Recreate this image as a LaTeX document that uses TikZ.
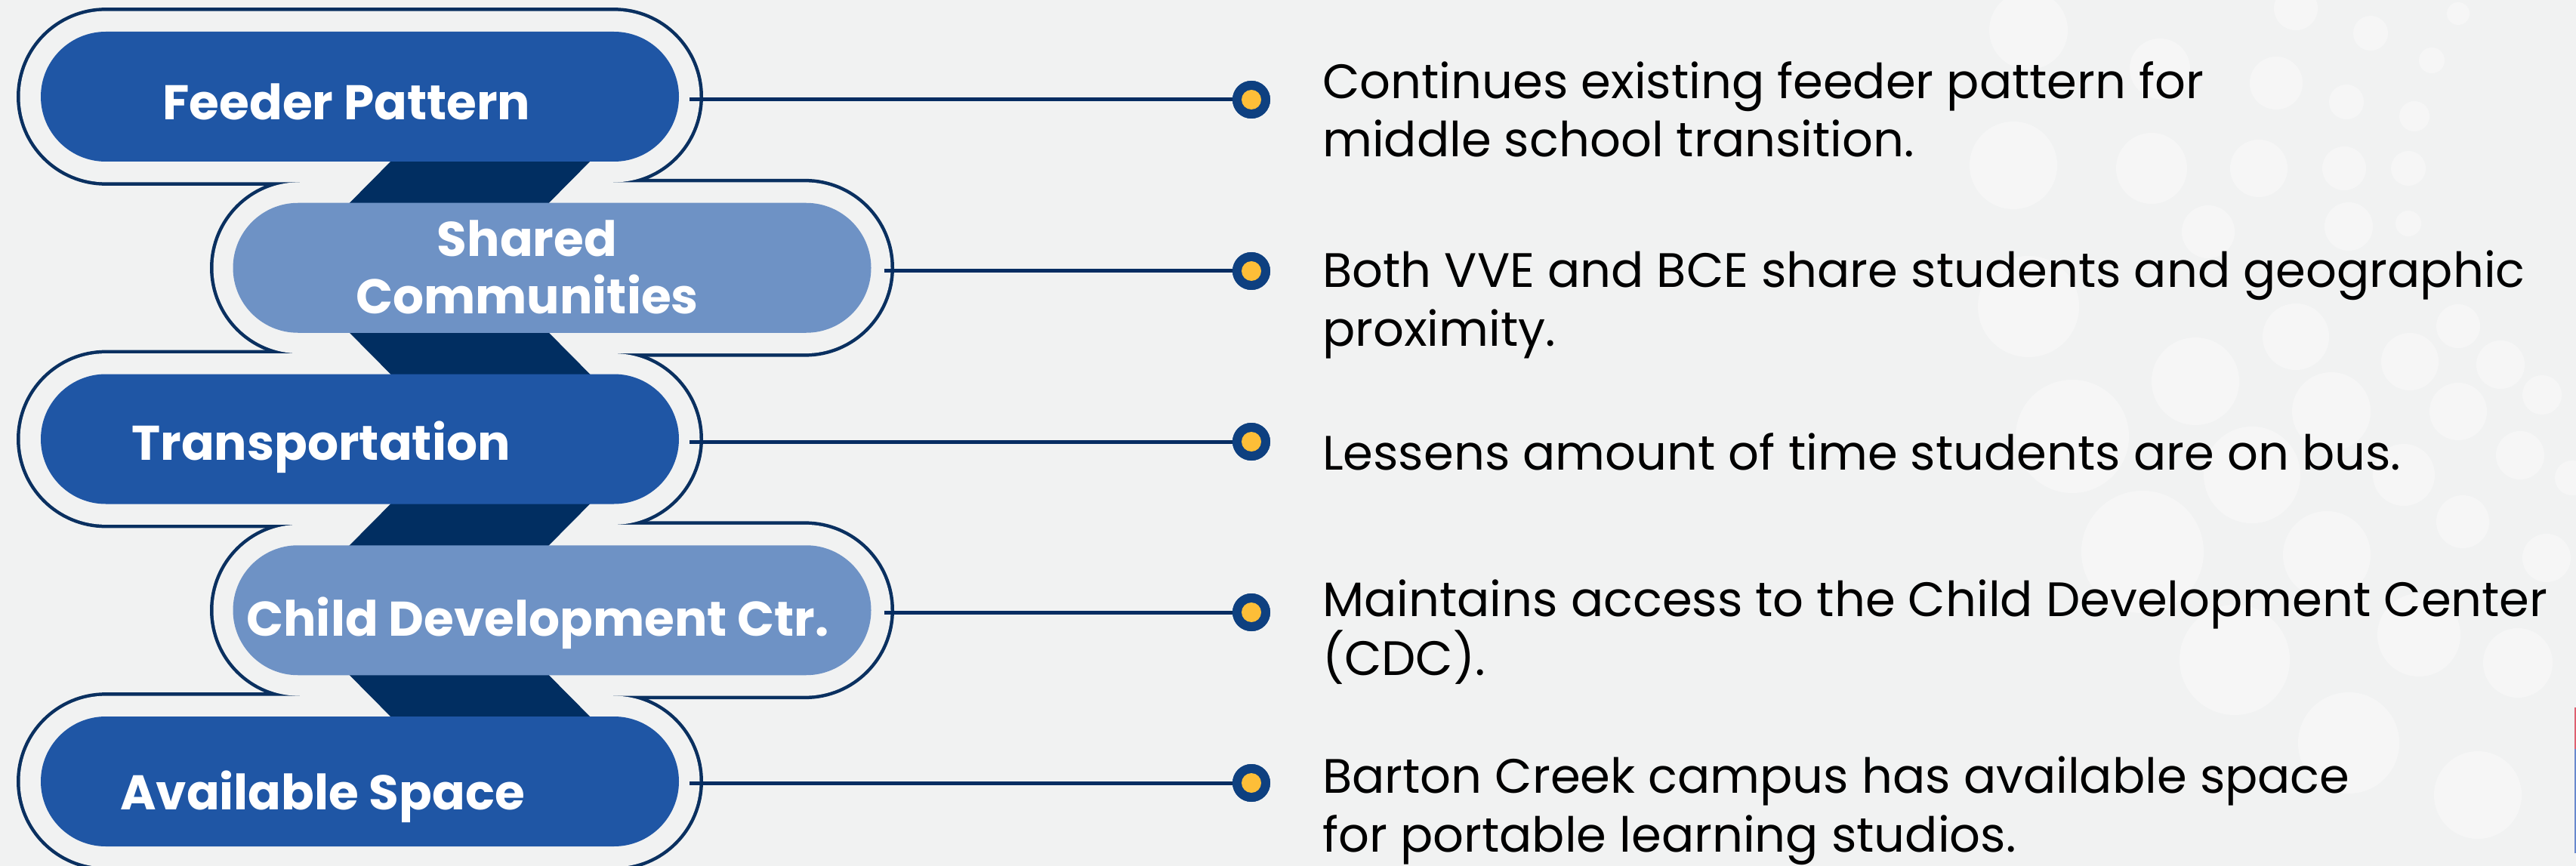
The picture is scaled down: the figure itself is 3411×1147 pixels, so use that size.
\documentclass[tikz,border=0pt]{standalone}
\usepackage{fontspec}
\setmainfont{Poppins}
\usetikzlibrary{calc}
\definecolor{bgc}{RGB}{241,242,242}
\definecolor{pilldark}{RGB}{31,86,165}
\definecolor{pilllight}{RGB}{110,146,197}
\definecolor{bandc}{RGB}{1,46,97}
\definecolor{haloc}{RGB}{10,48,96}
\definecolor{linkc}{RGB}{6,45,98}
\definecolor{dotblue}{RGB}{14,64,128}
\definecolor{dotyel}{RGB}{253,190,56}
\definecolor{edgered}{RGB}{222,96,112}
\definecolor{edgeblue}{RGB}{104,136,205}
\tikzset{
  pillbox/.style={rectangle, rounded corners=86pt, minimum width=845pt, minimum height=172pt, inner sep=0pt},
  pillD/.style={pillbox, fill=pilldark},
  pillL/.style={pillbox, fill=pilllight},
  ptext/.style={text=white, font=\fontsize{64.5}{76}\selectfont\bfseries, inner sep=0pt, align=center},
  halostroke/.style={draw=haloc, line width=9pt},
  halofill/.style={fill=bgc},
  band/.style={fill=bandc},
  link/.style={draw=linkc, line width=5pt},
  dotout/.style={circle, fill=dotblue, minimum size=50pt, inner sep=0pt},
  dotin/.style={circle, fill=dotyel, minimum size=26pt, inner sep=0pt},
  desc/.style={text=black, font=\fontsize{64}{77.5}\selectfont, inner sep=0pt, align=left, anchor=base west},
  bubble/.style={fill=white, fill opacity=0.36}
}
\begin{document}
\begin{tikzpicture}[x=1pt, y=-1pt]
\useasboundingbox (0,0) rectangle (3411,1147);
\fill[bgc] (0,0) rectangle (3411,1147);
% faint background bubbles
\foreach \cx/\cy/\r in {2686/40/52, 2860/91/40, 3014/110/35, 3139/44/23, 3220/80/17, 3255/18/15, 3040/11/29,
  3107/135/23, 3197/154/20, 2666/219/58, 2849/223/47, 2991/223/38, 3104/223/29, 3189/223/23,
  2686/406/67, 2924/307/35, 3110/300/32, 3189/296/17, 3040/446/44, 3191/479/38, 3255/432/29,
  3311/483/32, 2907/505/58, 2744/578/75, 3087/545/52, 3255/545/38, 3366/523/26, 2982/629/64,
  3183/629/41, 3337/603/32, 3406/633/23, 2837/731/81, 3081/735/58, 3261/691/35, 3372/739/32,
  2959/874/73, 3203/841/55, 3334/878/46, 3110/984/67, 3281/1053/58}
  {\fill[bubble] (\cx,\cy) circle (\r);}
\draw[edgered, line width=2.5pt] (3410,937) -- (3410,992);
\draw[edgeblue, line width=2.5pt] (3410,992) -- (3410,1130);
% halo outline (union of stadiums)
\foreach \cx/\cy/\w in {476.5/128/900, 731/354.75/897, 476.5/581.5/900, 731/808.25/897, 476.5/1035/900}
  {\draw[halostroke, rounded corners=113.375pt] (\cx-\w/2,\cy-113.375) rectangle (\cx+\w/2,\cy+113.375);}
\foreach \cx/\cy/\w in {476.5/128/900, 731/354.75/897, 476.5/581.5/900, 731/808.25/897, 476.5/1035/900}
  {\fill[halofill, rounded corners=113.375pt] (\cx-\w/2,\cy-113.375) rectangle (\cx+\w/2,\cy+113.375);}
% hide seams where neighbouring outlines touch
\foreach \jy in {241.375, 468.125, 694.875, 921.625}
  {\fill[halofill] (397,\jy-6) rectangle (812,\jy+6);}
% connecting bands
\fill[band] (531,200) -- (795,200) -- (713,282.75) -- (449,282.75) -- cycle;
\fill[band] (449,426.75) -- (713,426.75) -- (795,509.5) -- (531,509.5) -- cycle;
\fill[band] (531,653.5) -- (795,653.5) -- (713,736.25) -- (449,736.25) -- cycle;
\fill[band] (449,880.25) -- (713,880.25) -- (795,963) -- (531,963) -- cycle;
% pills
\node[pillD] (p1) at (476.5,128) {};
\node[pillL] (p2) at (731,354.75) {};
\node[pillD] (p3) at (476.5,581.5) {};
\node[pillL] (p4) at (731,808.25) {};
\node[pillD] (p5) at (476.5,1035) {};
\node[ptext, anchor=base] (t1) at (459,159) {Feeder Pattern};
\node[ptext, anchor=base] (t2) at (698,415) {Shared\\Communities};
\node[ptext, anchor=base] (t3) at (425,609) {Transportation};
\node[ptext, anchor=base] (t4) at (712,842) {Child Development Ctr.};
\node[ptext, anchor=base] (t5) at (427,1072) {Available Space};
% dots
\node[dotout] (d1) at (1657,132) {};
\node[dotout] (d2) at (1657,359) {};
\node[dotout] (d3) at (1657,585) {};
\node[dotout] (d4) at (1657,811) {};
\node[dotout] (d5) at (1657,1037) {};
% links
\draw[link] ([xshift=14pt]d1 -| p1.east) -- (d1.center);
\draw[link] ([xshift=17pt]d2 -| p2.east) -- (d2.center);
\draw[link] ([xshift=14pt]d3 -| p3.east) -- (d3.center);
\draw[link] ([xshift=17pt]d4 -| p4.east) -- (d4.center);
\draw[link] ([xshift=14pt]d5 -| p5.east) -- (d5.center);
\node[dotout] (d1o) at (d1) {};
\node[dotout] (d2o) at (d2) {};
\node[dotout] (d3o) at (d3) {};
\node[dotout] (d4o) at (d4) {};
\node[dotout] (d5o) at (d5) {};
\node[dotin] (d1i) at (d1) {};
\node[dotin] (d2i) at (d2) {};
\node[dotin] (d3i) at (d3) {};
\node[dotin] (d4i) at (d4) {};
\node[dotin] (d5i) at (d5) {};
% descriptions (base anchor = last line's baseline)
\node[desc] (r1) at (1751,208) {Continues existing feeder pattern for\\middle school transition.};
\node[desc] (r2) at (1751,458) {Both VVE and BCE share students and geographic\\proximity.};
\node[desc] (r3) at (1751,622) {Lessens amount of time students are on bus.};
\node[desc] (r4) at (1751,894) {Maintains access to the Child Development Center\\(CDC).};
\node[desc] (r5) at (1751,1128) {Barton Creek campus has available space\\for portable learning studios.};
\end{tikzpicture}
\end{document}
